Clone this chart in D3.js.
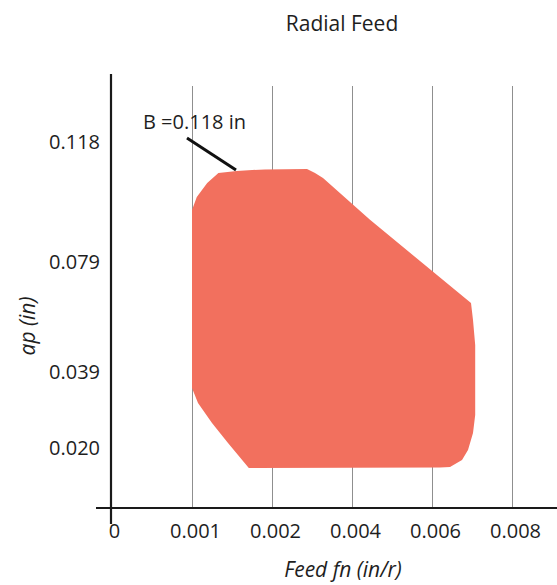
<!DOCTYPE html>
<html>
<head>
<meta charset="utf-8">
<script src="https://cdn.jsdelivr.net/npm/d3@7"></script>
<style>
  html, body { margin: 0; padding: 0; background: #fff; }
  svg { display: block; font-family: "Open Sans", "Noto Sans", sans-serif; }
</style>
</head>
<body>
<svg id="chart" width="557" height="585"></svg>
<script>
// ---- data ----
const title = "Radial Feed";
const xLabel = "Feed fn (in/r)";
const yLabel = "ap (in)";
const xTicks = [0, 0.001, 0.002, 0.004, 0.006, 0.008];
const xTickLabels = ["0", "0.001", "0.002", "0.004", "0.006", "0.008"];
const yTicks = [0.020, 0.039, 0.079, 0.118];
const yTickLabels = ["0.020", "0.039", "0.079", "0.118"];
// operating region outline (feed fn, ap)
const regionFeed = [0.00100, 0.00106, 0.00119, 0.00133, 0.00156, 0.00191, 0.002875, 0.003075, 0.003275, 0.00445,
                    0.006975, 0.007025, 0.00708, 0.00708, 0.00708, 0.007025, 0.00690, 0.00675, 0.00645, 0.00620,
                    0.00171, 0.00145, 0.00125, 0.001075, 0.00100];
const regionAp   = [0.0959, 0.1001, 0.1047, 0.1079, 0.1086, 0.1091, 0.1092, 0.1079, 0.1063, 0.0927,
                    0.0641, 0.0579, 0.0488, 0.0320, 0.02825, 0.02375, 0.01933, 0.0160, 0.01367, 0.0135,
                    0.01333, 0.02125, 0.02625, 0.03125, 0.0350];
const annotationText = "B =0.118 in";
const annotationTextPos = [0.000395, 0.1222];
const annotationLineFeed = [0.000938, 0.00155];
const annotationLineAp = [0.1193, 0.1089];

// ---- layout ----
const svg = d3.select("#chart");
const fillColor = "#f2705e";
const axisColor = "#1a1a1a";
const gridColor = "#8f8f8f";
const textColor = "#1e1e1e";

const x = d3.scaleLinear()
  .domain(xTicks)
  .range([111, 192, 272, 352, 432, 512]);
const y = d3.scaleLinear()
  .domain([0, 0.020, 0.039, 0.079, 0.118])
  .range([508, 448, 372, 262, 142]);

// gridlines
svg.append("g").selectAll("line")
  .data(xTicks.slice(1))
  .join("line")
  .attr("x1", d => x(d) + 0.5).attr("x2", d => x(d) + 0.5)
  .attr("y1", 86).attr("y2", 508)
  .attr("stroke", gridColor).attr("stroke-width", 1)
  .attr("shape-rendering", "crispEdges");

// region
const pts = regionFeed.map((f, i) => [f, regionAp[i]]);
const line = d3.line().x(d => x(d[0])).y(d => y(d[1])).curve(d3.curveLinearClosed);
svg.append("path")
  .attr("d", line(pts))
  .attr("fill", fillColor)
  .attr("stroke", "none");

// axis lines
svg.append("line")
  .attr("x1", 96).attr("x2", 557).attr("y1", y(0)).attr("y2", y(0))
  .attr("stroke", axisColor).attr("stroke-width", 2.2);
svg.append("line")
  .attr("x1", x(0)).attr("x2", x(0)).attr("y1", 74).attr("y2", 524)
  .attr("stroke", axisColor).attr("stroke-width", 2.2);

// x axis ticks
const xAxis = svg.append("g")
  .attr("transform", `translate(0,${y(0)})`)
  .call(d3.axisBottom(x).tickValues(xTicks)
    .tickFormat((d, i) => xTickLabels[i]).tickSize(0).tickPadding(16));
xAxis.select(".domain").remove();
xAxis.selectAll("text")
  .attr("dx", 3)
  .attr("fill", textColor)
  .style("font-size", "20px")
  .style("font-family", "'Open Sans', sans-serif");

// y axis ticks
const yAxis = svg.append("g")
  .attr("transform", `translate(${x(0)},0)`)
  .call(d3.axisLeft(y).tickValues(yTicks)
    .tickFormat((d, i) => yTickLabels[i]).tickSize(0).tickPadding(11));
yAxis.select(".domain").remove();
yAxis.selectAll("text")
  .attr("fill", textColor)
  .style("font-size", "20px")
  .style("font-family", "'Open Sans', sans-serif");

// title
svg.append("text")
  .attr("x", 342).attr("y", 31)
  .attr("text-anchor", "middle")
  .attr("fill", textColor)
  .style("font-size", "21px")
  .text(title);

// axis titles
svg.append("text")
  .attr("x", 343).attr("y", 577)
  .attr("text-anchor", "middle")
  .attr("fill", textColor)
  .style("font-size", "21px")
  .style("font-style", "italic")
  .text(xLabel);
svg.append("text")
  .attr("transform", "translate(35,326) rotate(-90)")
  .attr("text-anchor", "middle")
  .attr("fill", textColor)
  .style("font-size", "21px")
  .style("font-style", "italic")
  .text(yLabel);

// annotation
svg.append("line")
  .attr("x1", x(annotationLineFeed[0])).attr("y1", y(annotationLineAp[0]))
  .attr("x2", x(annotationLineFeed[1])).attr("y2", y(annotationLineAp[1]))
  .attr("stroke", "#111").attr("stroke-width", 3);
svg.append("text")
  .attr("x", x(annotationTextPos[0])).attr("y", y(annotationTextPos[1]))
  .attr("fill", textColor)
  .style("font-size", "20px")
  .text(annotationText);
</script>
</body>
</html>
